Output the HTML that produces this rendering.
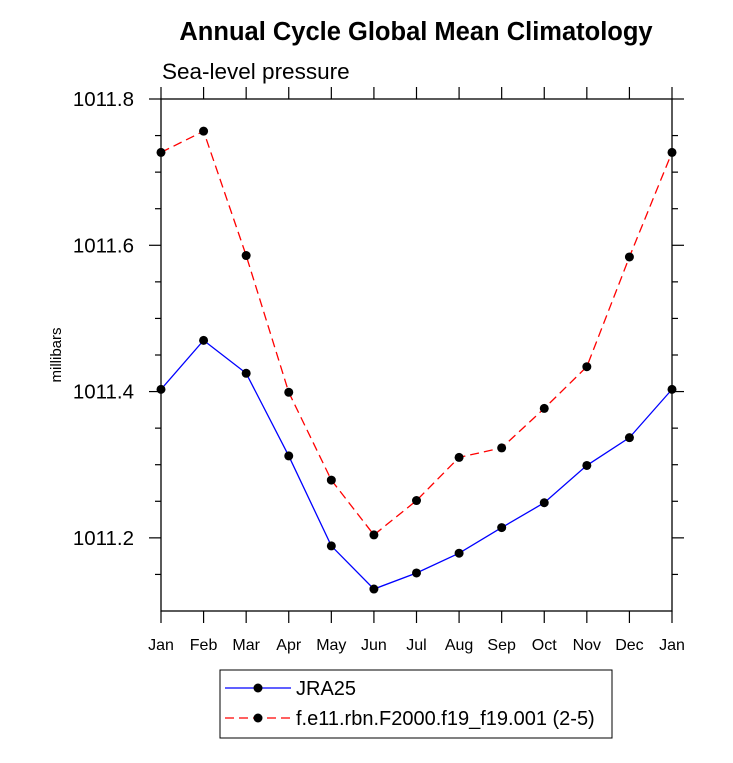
<!DOCTYPE html>
<html><head><meta charset="utf-8"><style>
body{margin:0;background:#fff;}
svg text{font-family:"Liberation Sans",sans-serif;}
</style></head><body>
<svg width="733" height="758" xmlns="http://www.w3.org/2000/svg">
<text x="416" y="40" text-anchor="middle" font-size="25.5" font-weight="bold">Annual Cycle Global Mean Climatology</text>
<text x="162" y="79" font-size="22.5">Sea-level pressure</text>
<text transform="translate(61,355) rotate(-90)" text-anchor="middle" font-size="15">millibars</text>
<g id="axes"></g>
<g id="series"></g>
<rect x="220" y="670" width="392" height="68" fill="none" stroke="#000" stroke-width="1"/>
<g>
<line x1="225" y1="688" x2="291" y2="688" stroke="#00f" stroke-width="1.2"/>
<circle cx="258" cy="688" r="4.5" fill="#000"/>
<text x="296" y="695" font-size="20">JRA25</text></g>
<g>
<line x1="225" y1="718" x2="291" y2="718" stroke="#f00" stroke-width="1.2" stroke-dasharray="9,5"/>
<circle cx="258" cy="718" r="4.5" fill="#000"/>
<text x="296" y="725" font-size="20">f.e11.rbn.F2000.f19_f19.001 (2-5)</text></g>
</svg>
<script>
const months=["Jan","Feb","Mar","Apr","May","Jun","Jul","Aug","Sep","Oct","Nov","Dec","Jan"];
const jra25=[1011.403,1011.470,1011.425,1011.312,1011.189,1011.130,1011.152,1011.179,1011.214,1011.248,1011.299,1011.337,1011.403];
const model=[1011.727,1011.756,1011.586,1011.399,1011.279,1011.204,1011.251,1011.310,1011.323,1011.377,1011.434,1011.584,1011.727];
const yTicks=[1011.2,1011.4,1011.6,1011.8];
const yTickLabels=["1011.2","1011.4","1011.6","1011.8"];
const yMin=1011.1,yMax=1011.8;
const L=161,R=672,T=99,B=611;
const NS="http://www.w3.org/2000/svg";
const xs=i=>L+(R-L)*i/(months.length-1);
const ys=v=>B-(v-yMin)/(yMax-yMin)*(B-T);
function mk(p,tag,a){const e=document.createElementNS(NS,tag);for(const k in a)e.setAttribute(k,a[k]);p.appendChild(e);return e;}
const ax=document.getElementById('axes');
const frame=mk(ax,'rect',{x:L,y:T,width:R-L,height:B-T,fill:'none',stroke:'#000','stroke-width':1.3});


months.forEach((m,i)=>{const x=xs(i);
mk(ax,'line',{x1:x,y1:B,x2:x,y2:B+12,stroke:'#000','stroke-width':1.2});
mk(ax,'line',{x1:x,y1:T,x2:x,y2:T-12,stroke:'#000','stroke-width':1.2});
const t=mk(ax,'text',{x:x,y:B+39,'text-anchor':'middle','font-size':16});t.textContent=m;

});
for(let v=yMin+0.05;v<yMax+1e-6;v+=0.05){const y=ys(v);const major=yTicks.some(t=>Math.abs(t-v)<1e-6);const len=major?12:6;
mk(ax,'line',{x1:L-len,y1:y,x2:L,y2:y,stroke:'#000','stroke-width':1.2});
mk(ax,'line',{x1:R,y1:y,x2:R+len,y2:y,stroke:'#000','stroke-width':1.2});}
yTicks.forEach((v,i)=>{const t=mk(ax,'text',{x:134,y:ys(v)+7,'text-anchor':'end','font-size':20.5});t.textContent=yTickLabels[i];

});
const sg=document.getElementById('series');
function draw(data,color,dash,name){
const pl=mk(sg,'polyline',{points:data.map((v,i)=>xs(i)+','+ys(v)).join(' '),fill:'none',stroke:color,'stroke-width':1.3,'stroke-dasharray':dash});


data.forEach((v,i)=>{const c=mk(sg,'circle',{cx:xs(i),cy:ys(v),r:4.5,fill:'#000'});

});}
draw(model,'#f00','9,5','model');
draw(jra25,'#00f','none','jra25');
</script>
</body></html>
